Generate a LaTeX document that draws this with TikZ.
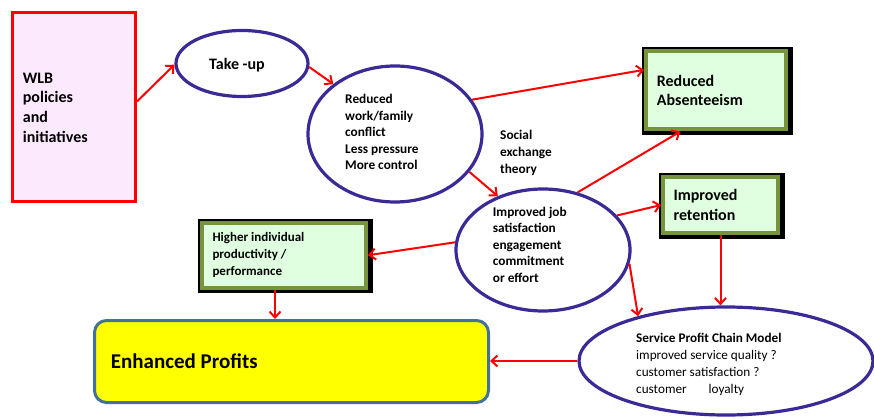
\documentclass[tikz,border=0pt]{standalone}
\usepackage{fontspec}
\setmainfont{Carlito}
\usetikzlibrary{arrows.meta,shapes.geometric,calc,backgrounds}
\definecolor{arrred}{RGB}{255,0,0}
\definecolor{wlbfill}{RGB}{253,233,253}
\definecolor{indigo}{RGB}{58,42,150}
\definecolor{olive}{RGB}{119,147,60}
\definecolor{lgreen}{RGB}{224,255,224}
\definecolor{profedge}{RGB}{65,113,156}
\definecolor{yel}{RGB}{255,255,0}
\newcommand\txtblock[1]{\parbox[t]{200pt}{\raggedright #1}}
\begin{document}
\begin{tikzpicture}[x=1pt,y=1pt,
  oval/.style={ellipse,draw=indigo,line width=3.2pt,inner sep=0pt,fill=white},
  gbox/.style={rectangle,draw=olive,line width=4pt,fill=lgreen,inner sep=0pt},
  arr/.style={draw=arrred,line width=2pt,-{Straight Barb[length=6pt,width=11pt]}},
  txt/.style={anchor=base west,inner sep=0pt},
]
\useasboundingbox (0,0) rectangle (874,418);

% shapes
\node[rectangle,draw=arrred,line width=3pt,fill=wlbfill,minimum width=123pt,minimum height=189pt,inner sep=0pt] (wlb) at (74,311) {};
\node[oval,minimum width=132pt,minimum height=66pt] (take) at (242,354.5) {};
\node[oval,minimum width=174pt,minimum height=136pt] (e2) at (395,284) {};
\node[oval,minimum width=174pt,minimum height=122pt] (e3) at (543,168) {};
\node[oval,minimum width=294pt,minimum height=108pt] (spc) at (726,57) {};
\node[gbox,minimum width=140pt,minimum height=78pt] (abs) at (716,327.5) {};
\node[gbox,minimum width=115pt,minimum height=56pt] (ret) at (720.5,213) {};
\node[gbox,minimum width=164pt,minimum height=64.5pt] (high) at (284,162.75) {};
\node[rectangle,rounded corners=12pt,draw=profedge,line width=3pt,fill=yel,minimum width=394pt,minimum height=82pt,inner sep=0pt] (prof) at (291.5,56.5) {};

\begin{scope}[on background layer]
  \foreach \n in {abs,ret,high}
    \fill[black] ($(\n.north west)+(-2,2)$) rectangle ($(\n.south east)+(4.5,-3.5)$);
\end{scope}

% texts
\node[txt,font=\bfseries\fontsize{16}{19.6}\selectfont] (twlb) at (22.7,334.7) {\txtblock{WLB\\policies\\and\\initiatives}};
\node[anchor=base,inner sep=0pt,font=\bfseries\fontsize{16}{19}\selectfont] (ttake) at (237,348) {Take -up};
\node[txt,font=\bfseries\fontsize{13.3}{16.5}\selectfont] (te2) at (345,314) {\txtblock{Reduced\\work/family\\conflict\\Less pressure\\More control}};
\node[txt,font=\bfseries\fontsize{13.3}{16.7}\selectfont] (tsoc) at (500,278) {\txtblock{Social\\exchange\\theory}};
\node[txt,font=\bfseries\fontsize{13.3}{16.5}\selectfont] (te3) at (492.7,202) {\txtblock{Improved job\\satisfaction\\engagement\\commitment\\or effort}};
\node[txt,font=\bfseries\fontsize{16}{19}\selectfont] (tabs) at (656.7,331.3) {\txtblock{Reduced\\Absenteeism}};
\node[txt,font=\bfseries\fontsize{16}{20}\selectfont] (tret) at (673.3,217.3) {\txtblock{Improved\\retention}};
\node[txt,font=\bfseries\fontsize{13}{17}\selectfont] (thigh) at (212.3,176.3) {\txtblock{Higher individual\\productivity /\\performance}};
\node[txt,font=\bfseries\fontsize{21}{24}\selectfont] (tprof) at (110.7,49.7) {Enhanced Profits};
\node[txt,font=\fontsize{13.2}{17}\selectfont] (tspc) at (636,75.7) {\txtblock{\textbf{Service Profit Chain Model}\\improved service quality ?\\customer satisfaction ?\\customer\hspace{22pt}loyalty}};

% connectors
\draw[arr] (wlb.5) -- (take.181);
\draw[arr] (take.-3) -- (e2.141);
\draw[arr] (e2.24) -- (abs.164);
\draw[arr] (e2.-27) -- (e3.130);
\draw[arr] (e3.59) -- (abs.229);
\draw[arr] (e3.25) -- (ret.west);
\draw[arr] (e3.175) -- (high.east);
\draw[arr] (e3.-9) -- (spc.153);
\draw[arr] (ret.south) -- (ret.south |- spc.north);
\draw[arr] ([xshift=-9pt]high.south) -- ([xshift=-9pt]high.south |- prof.north);
\draw[arr] (spc.west) -- (spc.west -| prof.east);
\end{tikzpicture}
\end{document}
